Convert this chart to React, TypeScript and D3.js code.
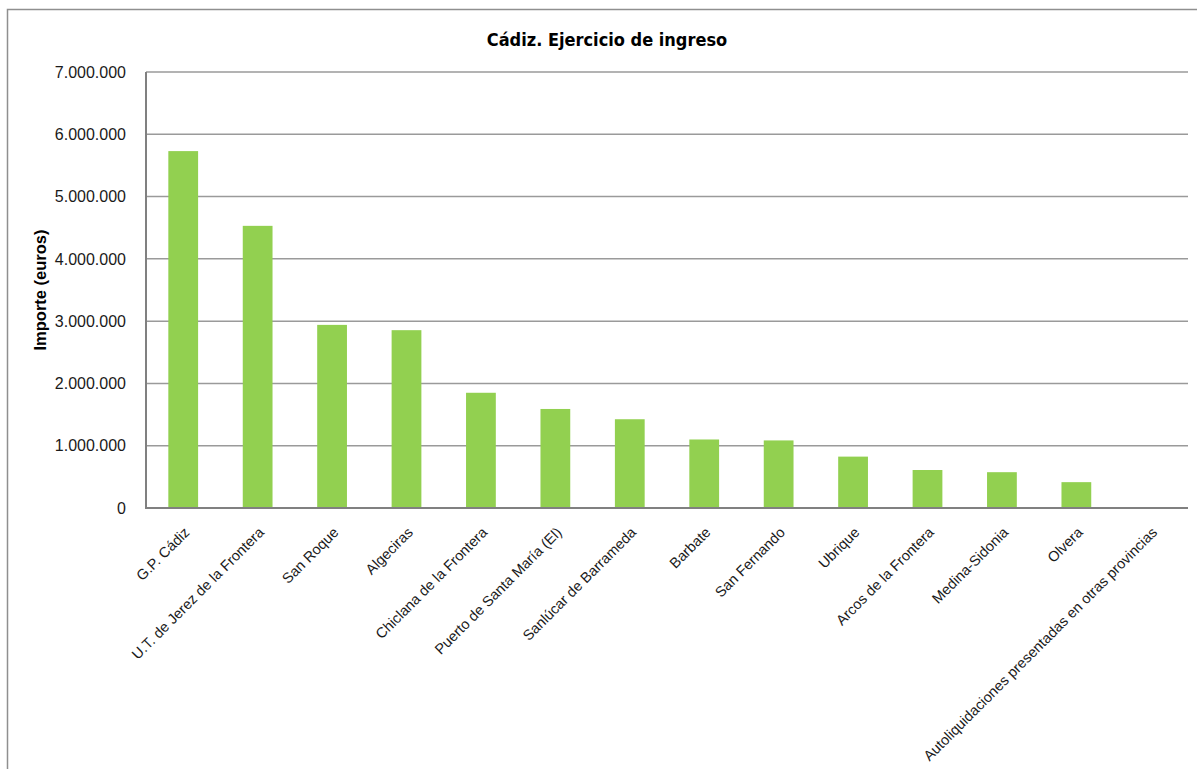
import React from "react";
import * as d3 from "d3";

const categories: string[] = [
  "G.P. Cádiz",
  "U.T. de Jerez de la Frontera",
  "San Roque",
  "Algeciras",
  "Chiclana de la Frontera",
  "Puerto de Santa María (El)",
  "Sanlúcar de Barrameda",
  "Barbate",
  "San Fernando",
  "Ubrique",
  "Arcos de la Frontera",
  "Medina-Sidonia",
  "Olvera",
  "Autoliquidaciones presentadas en otras provincias",
];
const values: number[] = [
  5730000, 4530000, 2940000, 2855000, 1850000, 1590000, 1425000, 1100000,
  1085000, 825000, 610000, 575000, 415000, 0,
];
const yTicks: number[] = [0, 1000000, 2000000, 3000000, 4000000, 5000000, 6000000, 7000000];
const title = "Cádiz. Ejercicio de ingreso";
const yTitle = "Importe (euros)";

const W = 1197;
const H = 769;
const left = 146;
const right = 1188;
const top = 72;
const bottom = 508;

const esLocale = d3.formatLocale({
  decimal: ",",
  thousands: ".",
  grouping: [3],
  currency: ["", " €"],
});
const fmt = esLocale.format(",.0f");

const FONT = "'Liberation Sans', Arial, sans-serif";
const FONT_NARROW = "'Liberation Sans Narrow', 'DejaVu Sans Condensed', 'Arial Narrow', sans-serif";

export default function App() {
  const x = d3
    .scaleBand<string>()
    .domain(categories)
    .range([left, right])
    .paddingInner(0.6)
    .paddingOuter(0.3);
  const y = d3.scaleLinear().domain([0, 7000000]).range([bottom, top]);

  return (
    <svg
      width={W}
      height={H}
      style={{ position: "absolute", left: 0, top: 0, background: "#fff" }}
    >
      <rect x={0} y={0} width={W} height={H} fill="#fff" />
      <rect
        x={7.5}
        y={9.5}
        width={1200}
        height={800}
        fill="none"
        stroke="#8f8f8f"
        strokeWidth={1.5}
      />
      <text
        x={607}
        y={46}
        textAnchor="middle"
        fontFamily={FONT_NARROW}
        fontWeight="bold"
        fontSize={18}
        fill="#000"
      >
        {title}
      </text>
      {yTicks.map((t) => (
        <line
          key={"g" + t}
          x1={left}
          x2={right}
          y1={y(t)}
          y2={y(t)}
          stroke="#9a9a9a"
          strokeWidth={1.5}
        />
      ))}
      {categories.map((c, i) => (
        <rect
          key={"b" + c}
          x={x(c)}
          y={y(values[i])}
          width={x.bandwidth()}
          height={y(0) - y(values[i])}
          fill="#92d050"
        />
      ))}
      <line x1={left} x2={left} y1={top} y2={bottom + 1} stroke="#808080" strokeWidth={2} />
      <line x1={left - 1} x2={right} y1={bottom} y2={bottom} stroke="#808080" strokeWidth={2} />
      {yTicks.map((t) => (
        <text
          key={"t" + t}
          x={126}
          y={y(t)}
          dy="0.36em"
          textAnchor="end"
          fontFamily={FONT}
          fontSize={16}
          fill="#1a1a1a"
        >
          {fmt(t)}
        </text>
      ))}
      <text
        transform={`translate(46,290) rotate(-90)`}
        textAnchor="middle"
        fontFamily={FONT}
        fontWeight="bold"
        fontSize={16.5}
        fill="#000"
      >
        {yTitle}
      </text>
      {categories.map((c) => {
        const cx = (x(c) as number) + x.bandwidth() / 2;
        return (
          <text
            key={"l" + c}
            transform={`translate(${cx},${526}) rotate(-45)`}
            textAnchor="end"
            dy="0.71em"
            fontFamily={FONT}
            fontSize={14.5}
            fill="#1a1a1a"
          >
            {c}
          </text>
        );
      })}
    </svg>
  );
}
